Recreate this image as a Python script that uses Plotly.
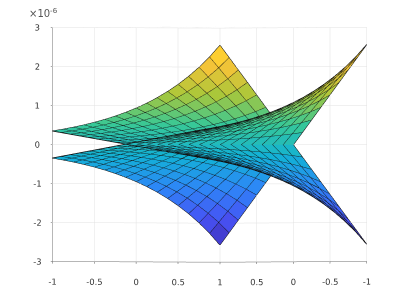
import plotly.graph_objects as go

x_grid = [-1.0, -0.875, -0.75, -0.625, -0.5, -0.375, -0.25, -0.125, 0.0,
          0.125, 0.25, 0.375, 0.5, 0.625, 0.75, 0.875, 1.0]
y_grid = list(x_grid)
edge_height = [0.346, 0.392, 0.444, 0.503, 0.570, 0.646, 0.732, 0.830, 0.94,
               1.065, 1.207, 1.368, 1.55, 1.756, 1.99, 2.255, 2.56]
z_ticks = [-3, -2, -1, 0, 1, 2, 3]
xy_ticks = [-1, -0.5, 0, 0.5, 1]
xy_labels = ["-1", "-0.5", "0", "0.5", "1"]
z_labels = ["-3", "-2", "-1", "0", "1", "2", "3"]
parula = ["#3e26a8", "#4752f4", "#2d87f7", "#12b1d6", "#37c897", "#abc739", "#fec338", "#f9fb15"]
scale = [[i / (len(parula) - 1), c] for i, c in enumerate(parula)]
n = len(x_grid)


def sheet(sign):
    """Flat-coloured facets plus dark mesh lines for one sheet."""
    xs, ys, zs = [], [], []
    for y in y_grid:
        for x, h in zip(x_grid, edge_height):
            xs.append(x)
            ys.append(y)
            zs.append(sign * y * h)
    i, j, k, cell = [], [], [], []
    for r in range(n - 1):
        for c in range(n - 1):
            a, b, d, e = r * n + c, r * n + c + 1, (r + 1) * n + c, (r + 1) * n + c + 1
            level = (zs[a] + zs[b] + zs[d] + zs[e]) / 4
            i += [a, b]
            j += [b, e]
            k += [d, d]
            cell += [level, level]
    faces = go.Mesh3d(x=xs, y=ys, z=zs, i=i, j=j, k=k, intensity=cell, intensitymode="cell",
                      colorscale=scale, cmin=-2.7, cmax=2.9, showscale=False, flatshading=True,
                      lighting=dict(ambient=1, diffuse=0, specular=0, roughness=1, fresnel=0), hoverinfo="skip")
    lx, ly, lz = [], [], []
    for r in range(n):
        ids = [r * n + c for c in range(n)]
        lx += [xs[q] for q in ids] + [None]
        ly += [ys[q] for q in ids] + [None]
        lz += [zs[q] for q in ids] + [None]
    for c in range(n):
        ids = [r * n + c for r in range(n)]
        lx += [xs[q] for q in ids] + [None]
        ly += [ys[q] for q in ids] + [None]
        lz += [zs[q] for q in ids] + [None]
    lines = go.Scatter3d(x=lx, y=ly, z=lz, mode="lines", line=dict(color="#111111", width=1.6),
                         hoverinfo="skip", showlegend=False)
    return [faces, lines]


axis = dict(range=[-1, 1], tickvals=xy_ticks, ticktext=xy_labels, showbackground=False, gridcolor="#e2e2e2",
            gridwidth=1, zeroline=False, showline=True, linecolor="#6e6e6e", ticks="outside", ticklen=2,
            tickcolor="#555555", title="", tickfont=dict(family="DejaVu Sans", size=10, color="#333333"),
            showspikes=False, tickangle=0)
zaxis = dict(axis, range=[-3, 3], tickvals=z_ticks, ticktext=z_labels)

fig = go.Figure(sheet(1) + sheet(-1))
fig.update_layout(
    width=407, height=295, margin=dict(l=0, r=0, t=0, b=0), paper_bgcolor="white", showlegend=False,
    scene=dict(domain=dict(x=[0.006, 0.986], y=[0.02, 1]), xaxis=axis, yaxis=axis, zaxis=zaxis,
               aspectmode="manual", aspectratio=dict(x=1.542, y=1.542, z=1.62),
               camera=dict(projection=dict(type="orthographic"), up=dict(x=0, y=0, z=1),
                           center=dict(x=0, y=0, z=-0.0556), eye=dict(x=-0.911, y=-1.041, z=-0.0616))),
)
fig.update_layout(annotations=[dict(text="×10<sup>-6</sup>", x=0.05, y=1.0, xref="paper", yref="paper",
                                    xanchor="left", yanchor="top", xshift=-1, yshift=3, showarrow=False,
                                    font=dict(family="DejaVu Sans", size=10, color="#555555"))])
fig.write_html("out.html")
